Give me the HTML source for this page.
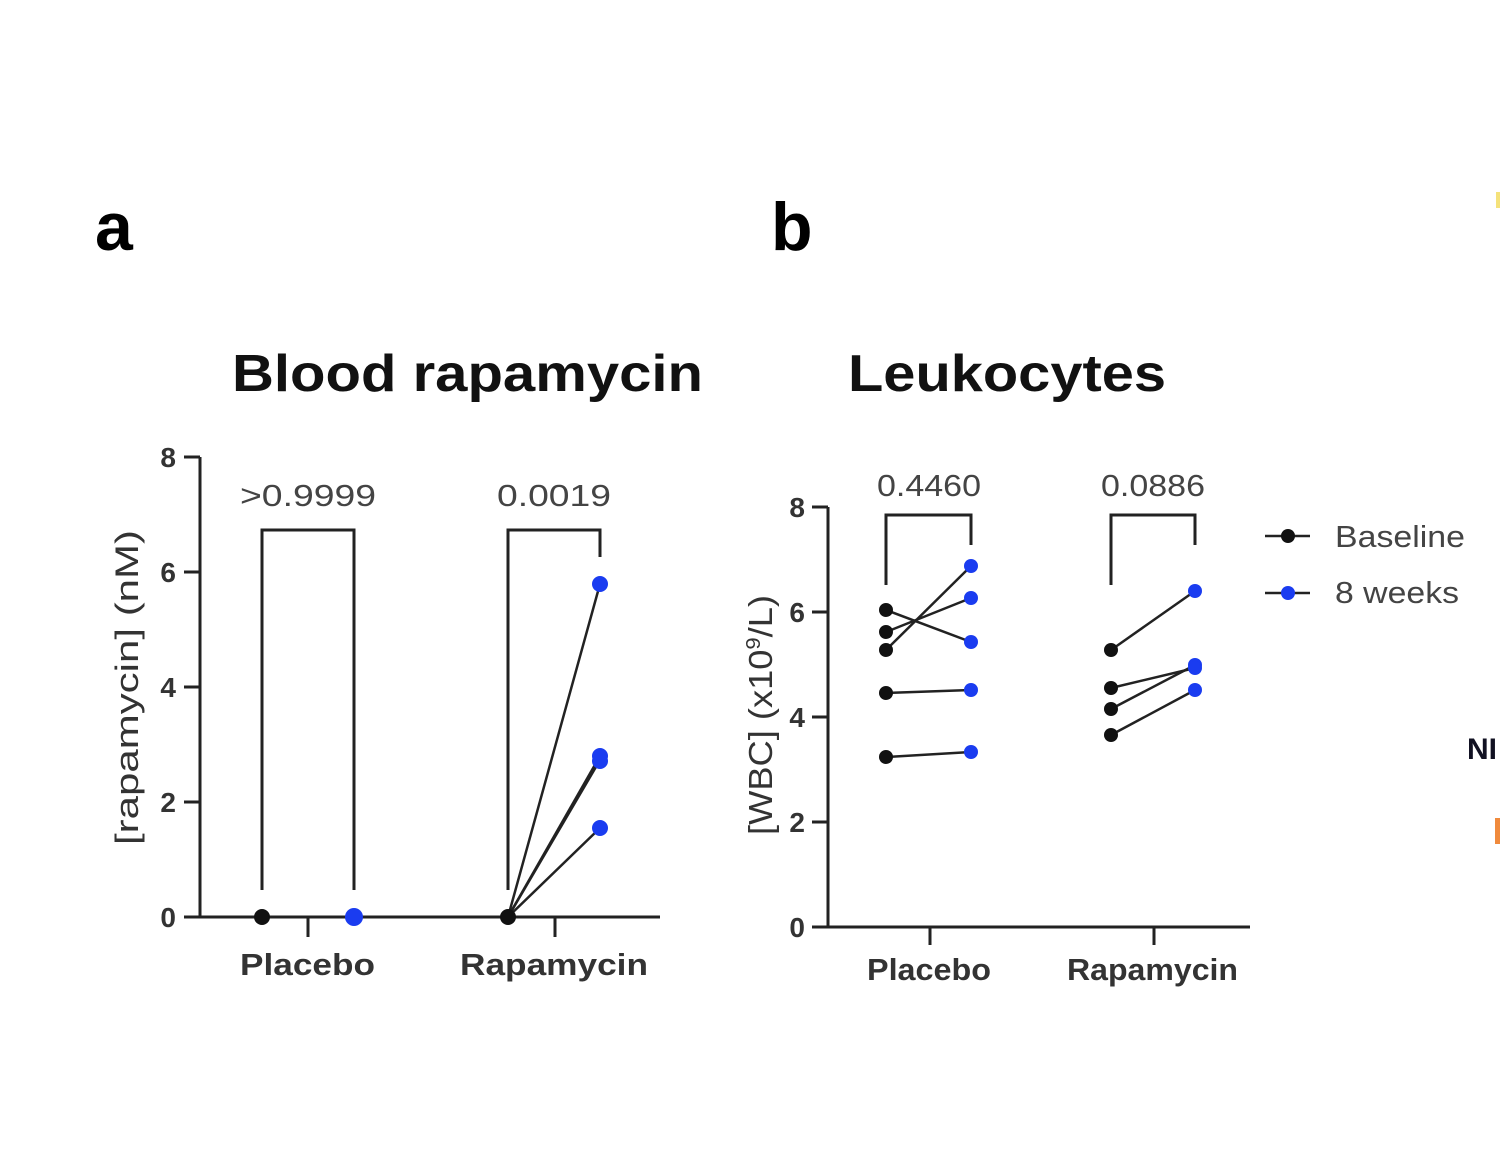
<!DOCTYPE html>
<html><head><style>body{margin:0;background:#fff}</style></head><body>
<svg width="1500" height="1152" xmlns="http://www.w3.org/2000/svg" font-family="Liberation Sans, sans-serif">
<rect width="1500" height="1152" fill="#fff"/>
<text x="95" y="250" font-size="68" font-weight="bold">a</text>
<text x="771" y="250" font-size="68" font-weight="bold">b</text>
<text x="232" y="391" font-size="52" font-weight="bold" fill="#111" textLength="471" lengthAdjust="spacingAndGlyphs">Blood rapamycin</text>
<text x="848" y="391" font-size="52" font-weight="bold" fill="#111" textLength="318" lengthAdjust="spacingAndGlyphs">Leukocytes</text>
<g stroke="#222" stroke-width="3" fill="none">
<path d="M200 457V917M184 457H200M184 572H200M184 687H200M184 802H200M184 917H660M308 917V937M555 917V937"/>
<path d="M262 890V530H354V890M508 890V530H600V557"/>
<path d="M828 507V927M812 507H828M812 612H828M812 717H828M812 822H828M812 927H1250M930 927V945M1154 927V945"/>
<path d="M886 585V515H971V545M1111 585V515H1195V545"/>
</g>
<g stroke="#222" stroke-width="2.5">
<line x1="262" y1="917" x2="354" y2="917"/>
<line x1="508" y1="917" x2="600" y2="584"/><line x1="508" y1="917" x2="600" y2="756"/><line x1="508" y1="917" x2="600" y2="760"/><line x1="508" y1="917" x2="600" y2="828"/>
<line x1="886" y1="610" x2="971" y2="642"/><line x1="886" y1="632" x2="971" y2="598"/><line x1="886" y1="650" x2="971" y2="566"/><line x1="886" y1="693" x2="971" y2="690"/><line x1="886" y1="757" x2="971" y2="752"/>
<line x1="1111" y1="650" x2="1195" y2="591"/><line x1="1111" y1="688" x2="1195" y2="668"/><line x1="1111" y1="709" x2="1195" y2="665"/><line x1="1111" y1="735" x2="1195" y2="690"/>
<line x1="1265" y1="536" x2="1310" y2="536"/><line x1="1265" y1="593" x2="1310" y2="593"/>
</g>
<g fill="#111">
<circle cx="262" cy="917" r="8"/><circle cx="508" cy="917" r="8"/>
<circle cx="886" cy="610" r="7"/><circle cx="886" cy="632" r="7"/><circle cx="886" cy="650" r="7"/><circle cx="886" cy="693" r="7"/><circle cx="886" cy="757" r="7"/>
<circle cx="1111" cy="650" r="7"/><circle cx="1111" cy="688" r="7"/><circle cx="1111" cy="709" r="7"/><circle cx="1111" cy="735" r="7"/>
<circle cx="1288" cy="536" r="7"/>
</g>
<g fill="#1a3cf0">
<circle cx="354" cy="917" r="9"/><circle cx="600" cy="584" r="8"/><circle cx="600" cy="756" r="8"/><circle cx="600" cy="761" r="8"/><circle cx="600" cy="828" r="8"/>
<circle cx="971" cy="566" r="7"/><circle cx="971" cy="598" r="7"/><circle cx="971" cy="642" r="7"/><circle cx="971" cy="690" r="7"/><circle cx="971" cy="752" r="7"/>
<circle cx="1195" cy="591" r="7"/><circle cx="1195" cy="665" r="7"/><circle cx="1195" cy="668" r="7"/><circle cx="1195" cy="690" r="7"/>
<circle cx="1288" cy="593" r="7"/>
</g>
<g font-size="28" font-weight="bold" fill="#333" text-anchor="end">
<text x="176" y="467">8</text><text x="176" y="582">6</text><text x="176" y="697">4</text><text x="176" y="812">2</text><text x="176" y="927">0</text>
<text x="805" y="517">8</text><text x="805" y="622">6</text><text x="805" y="727">4</text><text x="805" y="832">2</text><text x="805" y="937">0</text>
</g>
<g font-size="31" fill="#444">
<text x="240" y="506" textLength="136" lengthAdjust="spacingAndGlyphs">&gt;0.9999</text><text x="497" y="506" textLength="114" lengthAdjust="spacingAndGlyphs">0.0019</text>
<text x="877" y="496" textLength="104" lengthAdjust="spacingAndGlyphs">0.4460</text><text x="1101" y="496" textLength="104" lengthAdjust="spacingAndGlyphs">0.0886</text>
</g>
<g font-size="31" font-weight="bold" fill="#333">
<text x="240" y="975" textLength="135" lengthAdjust="spacingAndGlyphs">Placebo</text><text x="460" y="975" textLength="188" lengthAdjust="spacingAndGlyphs">Rapamycin</text>
<text x="867" y="980" textLength="124" lengthAdjust="spacingAndGlyphs">Placebo</text><text x="1067" y="980" textLength="171" lengthAdjust="spacingAndGlyphs">Rapamycin</text>
</g>
<text transform="translate(138 845) rotate(-90)" font-size="32" fill="#333" textLength="315" lengthAdjust="spacingAndGlyphs">[rapamycin]  (nM)</text>
<text transform="translate(772 835) rotate(-90)" font-size="33" fill="#333" textLength="240" lengthAdjust="spacingAndGlyphs">[WBC] (x10<tspan font-size="20" dy="-12">9</tspan><tspan dy="12">/L)</tspan></text>
<text x="1335" y="547" font-size="31" fill="#444" textLength="130" lengthAdjust="spacingAndGlyphs">Baseline</text>
<text x="1335" y="603" font-size="31" fill="#444" textLength="124" lengthAdjust="spacingAndGlyphs">8 weeks</text>
<text x="1467" y="759" font-size="30" font-weight="bold" fill="#112">NI</text>
<rect x="1495" y="818" width="5" height="26" fill="#f08a3c"/>
<rect x="1496" y="192" width="4" height="16" fill="#f5e27a"/>
</svg>
</body></html>
